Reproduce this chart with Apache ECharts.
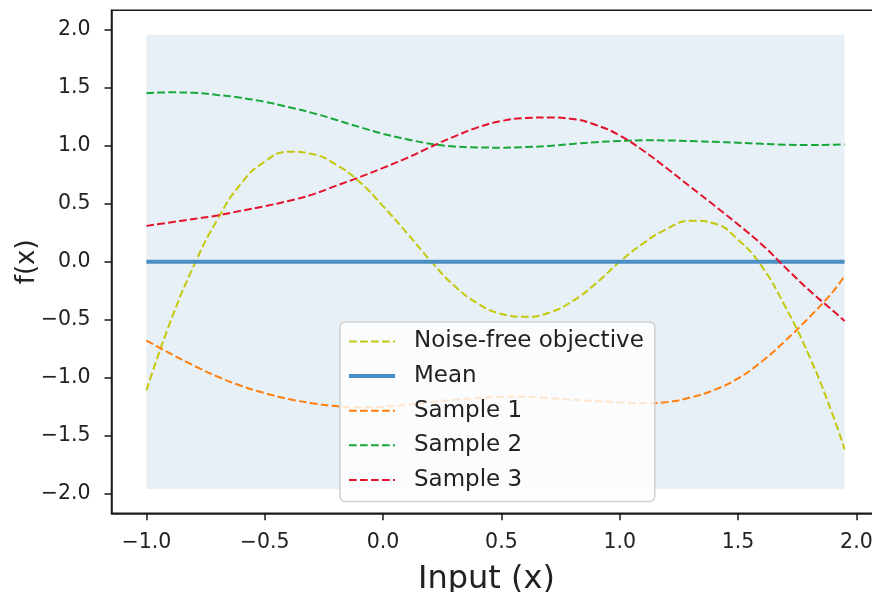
<!DOCTYPE html>
<html>
<head>
<meta charset="utf-8">
<script src="https://cdn.jsdelivr.net/npm/echarts@6/dist/echarts.min.js"></script>
<style>
  html, body { margin: 0; padding: 0; background: #ffffff; }
  #chart { width: 872px; height: 592px; }
</style>
</head>
<body>
<div id="chart"></div>
<script>
// Sample inputs on [-1, 1.95]
const xValues = [-1.0, -0.9, -0.8, -0.7, -0.6, -0.5, -0.4, -0.3, -0.2, -0.1,
                 0.0, 0.1, 0.2, 0.3, 0.4, 0.5, 0.6, 0.7, 0.8, 0.9,
                 1.0, 1.1, 1.2, 1.3, 1.4, 1.5, 1.6, 1.7, 1.8, 1.9, 1.95];

// Noise-free objective
const objective = [-1.11, -0.525, -0.035, 0.365, 0.675, 0.865, 0.95, 0.93, 0.84, 0.69,
                   0.48, 0.25, 0.01, -0.205, -0.36, -0.45, -0.475, -0.44, -0.34, -0.185,
                   0.0, 0.16, 0.285, 0.355, 0.33, 0.19, -0.04, -0.39, -0.81, -1.32, -1.62];

// Prior mean
const meanValues = [0, 0, 0, 0, 0, 0, 0, 0, 0, 0,
                    0, 0, 0, 0, 0, 0, 0, 0, 0, 0,
                    0, 0, 0, 0, 0, 0, 0, 0, 0, 0, 0];

// 95% confidence band (mean -/+ 1.96 std)
const ciLower = [-1.96, -1.96, -1.96, -1.96, -1.96, -1.96, -1.96, -1.96, -1.96, -1.96,
                 -1.96, -1.96, -1.96, -1.96, -1.96, -1.96, -1.96, -1.96, -1.96, -1.96,
                 -1.96, -1.96, -1.96, -1.96, -1.96, -1.96, -1.96, -1.96, -1.96, -1.96, -1.96];
const ciUpper = [1.96, 1.96, 1.96, 1.96, 1.96, 1.96, 1.96, 1.96, 1.96, 1.96,
                 1.96, 1.96, 1.96, 1.96, 1.96, 1.96, 1.96, 1.96, 1.96, 1.96,
                 1.96, 1.96, 1.96, 1.96, 1.96, 1.96, 1.96, 1.96, 1.96, 1.96, 1.96];

// Functions drawn from the GP prior
const sample1 = [-0.68, -0.79, -0.895, -0.99, -1.07, -1.133, -1.183, -1.22, -1.245, -1.255,
                 -1.25, -1.235, -1.21, -1.19, -1.175, -1.165, -1.165, -1.175, -1.19, -1.202,
                 -1.212, -1.22, -1.21, -1.17, -1.105, -1.005, -0.86, -0.68, -0.48, -0.26, -0.12];
const sample2 = [1.455, 1.462, 1.458, 1.44, 1.415, 1.38, 1.335, 1.285, 1.225, 1.163,
                 1.104, 1.058, 1.018, 0.995, 0.987, 0.985, 0.99, 1.0, 1.017, 1.032,
                 1.042, 1.048, 1.047, 1.042, 1.035, 1.027, 1.018, 1.011, 1.008, 1.01, 1.013];
const sample3 = [0.31, 0.34, 0.37, 0.40, 0.44, 0.48, 0.525, 0.58, 0.655, 0.73,
                 0.81, 0.895, 0.99, 1.08, 1.16, 1.215, 1.24, 1.245, 1.232, 1.18,
                 1.09, 0.958, 0.805, 0.645, 0.485, 0.322, 0.15, -0.05, -0.245, -0.42, -0.51];

// Tick positions
const xTicks = [-1.0, -0.5, 0.0, 0.5, 1.0, 1.5, 2.0];
const yTicks = [-2.0, -1.5, -1.0, -0.5, 0.0, 0.5, 1.0, 1.5, 2.0];

const FONT = 'DejaVu Sans';
const INK = '#1a1a1a';
const dashed = [7.7, 3.3];

const pairs = (ys) => xValues.map((x, i) => [x, ys[i]]);
const fmt = (v) => (v < 0 ? '\u2212' : '') + Math.abs(v).toFixed(1);

function curve(name, ys, color, width, type) {
  return {
    name: name,
    type: 'line',
    data: pairs(ys),
    smooth: 0.5,
    symbol: 'none',
    showSymbol: false,
    lineStyle: { color: color, width: width, type: type },
    itemStyle: { color: color },
    z: 3
  };
}

// Shaded band between the lower and upper bounds
function renderBand(params, api) {
  const upper = xValues.map((x, i) => api.coord([x, ciUpper[i]]));
  const lower = xValues.map((x, i) => api.coord([x, ciLower[i]])).reverse();
  return {
    type: 'polygon',
    shape: { points: upper.concat(lower) },
    style: { fill: '#e8f0f7' },
    silent: true
  };
}

const chart = echarts.init(document.getElementById('chart'), null, { renderer: 'canvas' });

chart.setOption({
  animation: false,
  backgroundColor: '#ffffff',
  grid: {
    left: 111.5, top: 10.3, right: -7.5, bottom: 78.7,
    outerBoundsMode: 'none', containLabel: false,
    show: true, borderColor: INK, borderWidth: 1.5, backgroundColor: 'transparent'
  },
  legend: {
    data: [
      { name: 'Noise-free objective' },
      { name: 'Mean', lineStyle: { width: 4 } },
      { name: 'Sample 1' },
      { name: 'Sample 2' },
      { name: 'Sample 3' }
    ],
    orient: 'vertical',
    left: 340, top: 322,
    padding: [8, 11, 10, 7],
    itemWidth: 46, itemHeight: 14, itemGap: 11.6,
    backgroundColor: 'rgba(255,255,255,0.8)',
    borderColor: '#d0d0d0', borderWidth: 1.5, borderRadius: 5,
    selectedMode: false,
    itemStyle: { opacity: 0 },
    textStyle: { fontFamily: FONT, fontSize: 23, color: '#222', lineHeight: 23, padding: [0, 0, 0, 14] }
  },
  xAxis: {
    type: 'value',
    min: -1.1475, max: 2.0975,
    splitLine: { show: false },
    axisLine: { show: true, onZero: false, lineStyle: { color: INK, width: 1.5 } },
    axisTick: { show: true, length: 7, lineStyle: { color: INK, width: 1.5 }, customValues: xTicks },
    axisLabel: { customValues: xTicks, formatter: fmt, fontFamily: FONT, fontSize: 20.5, color: '#222', margin: 19 },
    name: 'Input (x)', nameLocation: 'middle', nameGap: 50, nameMoveOverlap: false,
    nameTextStyle: { fontFamily: FONT, fontSize: 32, color: '#222', padding: [0, 18, 0, 0] }
  },
  yAxis: {
    type: 'value',
    min: -2.17, max: 2.17,
    splitLine: { show: false },
    axisLine: { show: true, onZero: false, lineStyle: { color: INK, width: 1.5 } },
    axisTick: { show: true, length: 7, lineStyle: { color: INK, width: 1.5 }, customValues: yTicks },
    axisLabel: { customValues: yTicks, formatter: fmt, fontFamily: FONT, fontSize: 20.5, color: '#222', margin: 21 },
    name: 'f(x)', nameLocation: 'middle', nameGap: 71, nameRotate: 90, nameMoveOverlap: false,
    nameTextStyle: { fontFamily: FONT, fontSize: 26, color: '#222' }
  },
  series: [
    {
      name: 'ci', type: 'custom', renderItem: renderBand,
      data: [[xValues[0], ciLower[0]]], silent: true, clip: false, z: 1
    },
    curve('Noise-free objective', objective, '#c3c80c', 2, dashed),
    curve('Mean', meanValues, '#4a8fc3', 4, 'solid'),
    curve('Sample 1', sample1, '#ff7f0e', 2, dashed),
    curve('Sample 2', sample2, '#18a83a', 2, dashed),
    curve('Sample 3', sample3, '#e3122b', 2, dashed)
  ]
});
</script>
</body>
</html>
